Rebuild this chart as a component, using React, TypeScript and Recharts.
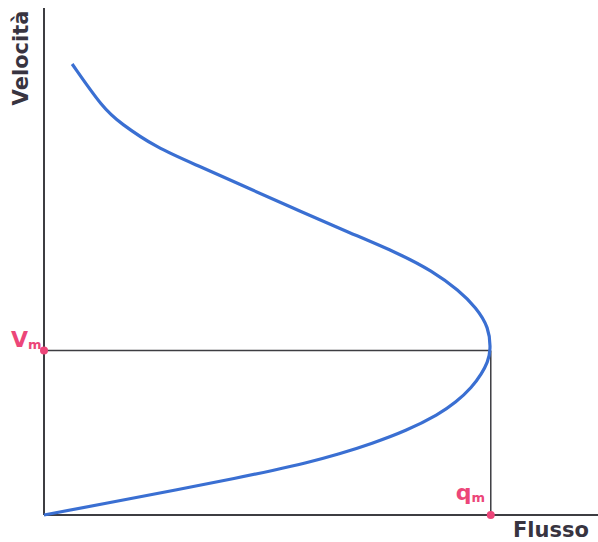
import { Line, LineChart, ReferenceDot, ReferenceLine, XAxis, YAxis } from "recharts";

// Flow–speed relation: speed (v) rises from 0 to the free-flow value, flow (q) peaks at capacity
const speed = [
  0, 3.6, 7.4, 11.4, 13.5, 15.8, 18.5, 21.7, 25.5, 30.6, 34.2, 38.8, 43.0, 46.4, 50,
  57.0, 63.0, 68.2, 74.2, 79.4, 85.8, 92.4, 99.1, 106.1, 111.5, 119.1, 123.6, 137.0,
];
const flow = [
  0, 14.1, 28.8, 43.8, 51.1, 58.7, 66.1, 73.4, 81.0, 88.4, 92.2, 95.8, 98.0, 99.3, 100,
  99.6, 96.7, 92.9, 86.8, 79.5, 68.3, 57.1, 46.0, 34.5, 25.2, 17.0, 13.2, 6.3,
];

const Q_MAX = 100; // capacity
const V_CRIT = 50; // speed at capacity
const Q_END = 124;
const V_END = 154;

const data = speed.map((v, i) => ({ v, q: flow[i] }));

const AXIS = "#3d3d42";
const PINK = "#ec4679";
const FONT = "DejaVu Sans, Verdana, sans-serif";

function SubLabel({ main, sub, x, y }: { main: string; sub: string; x: number; y: number }) {
  return (
    <text x={x} y={y} fill={PINK} fontFamily={FONT} fontWeight="bold" fontSize={22}>
      {main}
      <tspan fontSize={13} dy={2}>
        {sub}
      </tspan>
    </text>
  );
}

export default function App() {
  return (
    <div style={{ position: "absolute", left: 0, top: 0, background: "#fff" }}>
      <LineChart
        width={598}
        height={542}
        layout="vertical"
        data={data}
        margin={{ top: 8, right: 0, bottom: 27, left: 44 }}
      >
        <XAxis type="number" dataKey="q" domain={[0, Q_END]} hide />
        <YAxis type="number" dataKey="v" domain={[0, V_END]} reversed hide />
        {/* axes */}
        <ReferenceLine y={0} stroke={AXIS} strokeWidth={2} ifOverflow="visible" />
        <ReferenceLine x={0} stroke={AXIS} strokeWidth={2} ifOverflow="visible" />
        <ReferenceLine
          segment={[
            { x: 0, y: V_CRIT },
            { x: Q_MAX, y: V_CRIT },
          ]}
          stroke={AXIS}
          strokeWidth={1.5}
        />
        <ReferenceLine
          segment={[
            { x: Q_MAX, y: 0 },
            { x: Q_MAX, y: V_CRIT },
          ]}
          stroke={AXIS}
          strokeWidth={1.5}
        />
        <Line
          type="basis"
          dataKey="q"
          stroke="#3a6fd2"
          strokeWidth={3.2}
          dot={false}
          isAnimationActive={false}
        />
        <ReferenceDot
          x={0}
          y={V_CRIT}
          r={4}
          fill={PINK}
          stroke="none"
          ifOverflow="visible"
          label={{
            content: (p: any) => <SubLabel main="V" sub="m" x={p.viewBox.x - 29} y={p.viewBox.y + 1} />,
          }}
        />
        <ReferenceDot
          x={Q_MAX}
          y={0}
          r={4}
          fill={PINK}
          stroke="none"
          ifOverflow="visible"
          label={{
            content: (p: any) => <SubLabel main="q" sub="m" x={p.viewBox.x - 31} y={p.viewBox.y - 11} />,
          }}
        />
      </LineChart>
      <svg width={598} height={542} style={{ position: "absolute", left: 0, top: 0, pointerEvents: "none" }}>
        <text
          x={28}
          y={58}
          transform="rotate(-90, 28, 58)"
          textAnchor="middle"
          fill="#383440"
          fontFamily={FONT}
          fontWeight="bold"
          fontSize={21}
        >
          Velocità
        </text>
        <text x={513} y={537} fill="#383440" fontFamily={FONT} fontWeight="bold" fontSize={21}>
          Flusso
        </text>
      </svg>
    </div>
  );
}
